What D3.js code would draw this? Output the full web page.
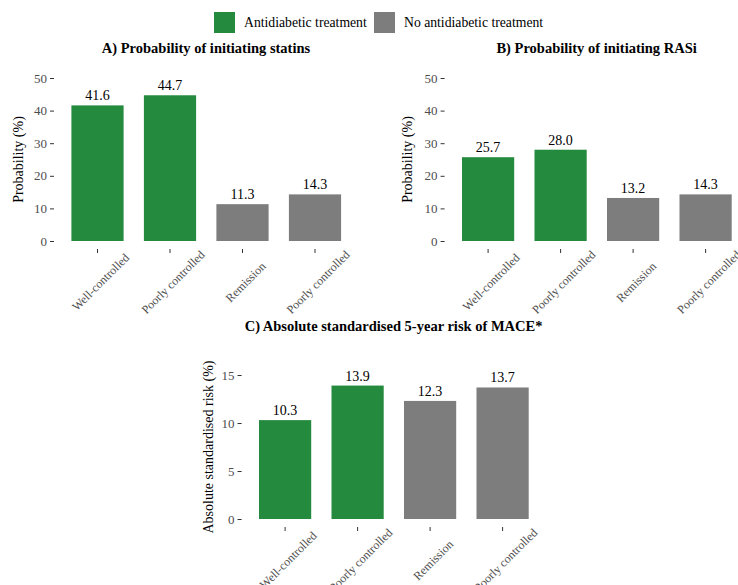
<!DOCTYPE html>
<html>
<head>
<meta charset="utf-8">
<script src="https://cdn.jsdelivr.net/npm/d3@7"></script>
<style>
  body { margin: 0; background: #fff; }
  svg { font-family: "Liberation Serif", "Times New Roman", serif; }
  .tick line { stroke: #333; }
  .tick text { fill: #4d4d4d; }
</style>
</head>
<body>
<div id="chart"></div>
<script>
// DATA
const categories = ["Well-controlled", "Poorly controlled", "Remission", "Poorly controlled"];
const groups = ["Antidiabetic treatment", "Antidiabetic treatment", "No antidiabetic treatment", "No antidiabetic treatment"];
const legendGroups = ["Antidiabetic treatment", "No antidiabetic treatment"];
const statinValues = [41.6, 44.7, 11.3, 14.3];
const rasiValues = [25.7, 28.0, 13.2, 14.3];
const maceValues = [10.3, 13.9, 12.3, 13.7];
const probTicks = [0, 10, 20, 30, 40, 50];
const riskTicks = [0, 5, 10, 15];

const width = 738, height = 585;

const color = d3.scaleOrdinal()
    .domain(legendGroups)
    .range(["#238a3e", "#7d7d7d"]);

const svg = d3.select("#chart")
    .append("svg")
    .attr("width", width)
    .attr("height", height);

// LEGEND
const legend = svg.append("g");
const legendX = [214, 374];
legendGroups.forEach((g, i) => {
  legend.append("rect")
    .attr("x", legendX[i]).attr("y", 12)
    .attr("width", 21).attr("height", 21)
    .attr("fill", color(g));
  legend.append("text")
    .attr("x", legendX[i] + 30).attr("y", 27)
    .style("font-size", "13.7px")
    .text(g);
});

// one panel
function panel(values, o) {
  const xScale = d3.scaleBand()
    .domain(d3.range(values.length))
    .range([o.left, o.left + 304.5])
    .paddingInner(0.28)
    .paddingOuter(0.24);

  const yScale = d3.scaleLinear()
    .domain([0, o.max])
    .range([o.bottom, o.top]);

  const g = svg.append("g");

  // bars
  g.selectAll("rect")
    .data(values)
    .join("rect")
    .attr("x", (d, i) => xScale(i))
    .attr("y", d => yScale(d))
    .attr("width", xScale.bandwidth())
    .attr("height", d => yScale(0) - yScale(d))
    .attr("fill", (d, i) => color(groups[i]));

  // value labels
  g.selectAll(".val")
    .data(values)
    .join("text")
    .attr("class", "val")
    .attr("x", (d, i) => xScale(i) + xScale.bandwidth() / 2)
    .attr("y", d => yScale(d) - 5)
    .attr("text-anchor", "middle")
    .style("font-size", "14px")
    .text(d => d.toFixed(1));

  // y axis
  const yAxis = g.append("g")
    .attr("transform", `translate(${o.left},0)`)
    .call(d3.axisLeft(yScale).tickValues(o.ticks).tickSize(4).tickPadding(3));
  yAxis.attr("font-family", null).attr("font-size", null);
  yAxis.select(".domain").remove();
  yAxis.selectAll("text").style("font-size", "13px");

  // x axis
  const xAxis = g.append("g")
    .attr("transform", `translate(0,${o.bottom + 8})`)
    .call(d3.axisBottom(xScale).tickFormat(i => categories[i]).tickSize(4));
  xAxis.attr("font-family", null).attr("font-size", null);
  xAxis.select(".domain").remove();
  xAxis.selectAll("text")
    .attr("y", 0)
    .attr("dy", "0.35em")
    .attr("text-anchor", "middle")
    .attr("transform", "translate(3,33) rotate(-45)")
    .style("font-size", "12px");

  // y axis title
  g.append("text")
    .attr("transform", `translate(${o.ylabelX},${(o.top + o.bottom) / 2}) rotate(-90)`)
    .attr("text-anchor", "middle")
    .attr("dy", "0.35em")
    .style("font-size", "14px")
    .text(o.ylabel);

  // panel title
  g.append("text")
    .attr("x", o.left + 152)
    .attr("y", o.titleY)
    .attr("text-anchor", "middle")
    .style("font-size", "14.5px")
    .style("font-weight", "bold")
    .text(o.title);
}

panel(statinValues, {left: 54, top: 78, bottom: 241, max: 50, ticks: probTicks,
  ylabel: "Probability (%)", ylabelX: 18, title: "A) Probability of initiating statins", titleY: 53});

panel(rasiValues, {left: 444.6, top: 78, bottom: 241, max: 50, ticks: probTicks,
  ylabel: "Probability (%)", ylabelX: 407, title: "B) Probability of initiating RASi", titleY: 53});

panel(maceValues, {left: 241.6, top: 375, bottom: 519, max: 15, ticks: riskTicks,
  ylabel: "Absolute standardised risk (%)", ylabelX: 208, title: "C) Absolute standardised 5-year risk of MACE*", titleY: 331});
</script>
</body>
</html>
